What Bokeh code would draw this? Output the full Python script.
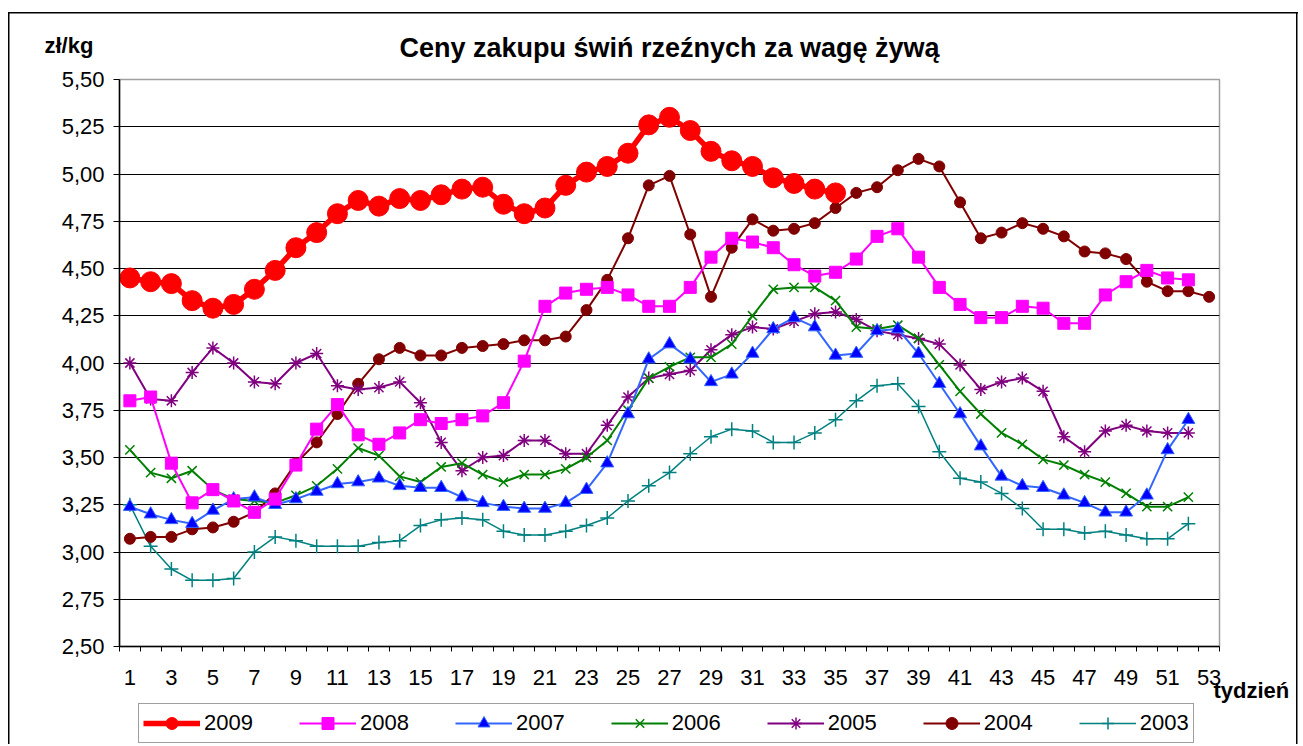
from bokeh.plotting import figure
from bokeh.layouts import column
from bokeh.models import (Range1d, FixedTicker, CustomJSTickFormatter, Legend, LegendItem,
                          Label)
from bokeh.embed import file_html
from bokeh.resources import INLINE

# ---- data -------------------------------------------------------------
title_text = "Ceny zakupu świń rzeźnych za wagę żywą"
y_title = "zł/kg"
x_title = "tydzień"

y2009 = [4.45, 4.43, 4.42, 4.33, 4.29, 4.31, 4.39, 4.49, 4.61, 4.69, 4.79, 4.86, 4.83, 4.87, 4.86,
         4.89, 4.92, 4.93, 4.84, 4.79, 4.82, 4.94, 5.01, 5.04, 5.11, 5.26, 5.30, 5.23, 5.12, 5.07,
         5.04, 4.98, 4.95, 4.92, 4.90]
y2008 = [3.80, 3.82, 3.47, 3.26, 3.33, 3.27, 3.21, 3.28, 3.46, 3.65, 3.78, 3.62, 3.57, 3.63, 3.70,
         3.68, 3.70, 3.72, 3.79, 4.01, 4.30, 4.37, 4.39, 4.40, 4.36, 4.30, 4.30, 4.40, 4.56, 4.66,
         4.64, 4.61, 4.52, 4.46, 4.48, 4.55, 4.67, 4.71, 4.56, 4.40, 4.31, 4.24, 4.24, 4.30, 4.29,
         4.21, 4.21, 4.36, 4.43, 4.49, 4.45, 4.44]
y2007 = [3.24, 3.20, 3.17, 3.15, 3.22, 3.28, 3.29, 3.25, 3.28, 3.32, 3.36, 3.37, 3.39, 3.35, 3.34,
         3.34, 3.29, 3.26, 3.24, 3.23, 3.23, 3.26, 3.33, 3.47, 3.73, 4.02, 4.10, 4.02, 3.90, 3.94,
         4.05, 4.18, 4.24, 4.19, 4.04, 4.05, 4.17, 4.18, 4.05, 3.89, 3.73, 3.56, 3.40, 3.35, 3.34,
         3.30, 3.26, 3.21, 3.21, 3.30, 3.54, 3.70]
y2006 = [3.54, 3.42, 3.39, 3.43, 3.33, 3.28, 3.27, 3.26, 3.30, 3.35, 3.44, 3.55, 3.51, 3.40, 3.37,
         3.45, 3.47, 3.41, 3.37, 3.41, 3.41, 3.44, 3.50, 3.59, 3.75, 3.92, 3.98, 4.03, 4.03, 4.10,
         4.25, 4.39, 4.40, 4.40, 4.33, 4.19, 4.18, 4.20, 4.13, 3.99, 3.85, 3.73, 3.63, 3.57, 3.49,
         3.46, 3.41, 3.37, 3.31, 3.24, 3.24, 3.29]
y2005 = [4.00, 3.81, 3.80, 3.95, 4.08, 4.00, 3.90, 3.89, 4.00, 4.05, 3.88, 3.86, 3.87, 3.90, 3.79,
         3.58, 3.43, 3.50, 3.51, 3.59, 3.59, 3.52, 3.52, 3.67, 3.82, 3.92, 3.94, 3.96, 4.07, 4.15,
         4.19, 4.18, 4.22, 4.26, 4.27, 4.23, 4.17, 4.15, 4.13, 4.10, 3.99, 3.86, 3.90, 3.92, 3.85,
         3.61, 3.53, 3.64, 3.67, 3.64, 3.63, 3.63]
y2004 = [3.07, 3.08, 3.08, 3.12, 3.13, 3.16, 3.21, 3.31, 3.47, 3.58, 3.73, 3.89, 4.02, 4.08, 4.04,
         4.04, 4.08, 4.09, 4.10, 4.12, 4.12, 4.14, 4.28, 4.44, 4.66, 4.94, 4.99, 4.68, 4.35, 4.61,
         4.76, 4.70, 4.71, 4.74, 4.82, 4.90, 4.93, 5.02, 5.08, 5.04, 4.85, 4.66, 4.69, 4.74, 4.71,
         4.67, 4.59, 4.58, 4.55, 4.43, 4.38, 4.38, 4.35]
y2003 = [3.25, 3.03, 2.91, 2.85, 2.85, 2.86, 3.00, 3.08, 3.06, 3.03, 3.03, 3.03, 3.05, 3.06, 3.14,
         3.17, 3.18, 3.17, 3.11, 3.09, 3.09, 3.11, 3.14, 3.18, 3.27, 3.35, 3.42, 3.52, 3.61, 3.65,
         3.64, 3.58, 3.58, 3.63, 3.70, 3.80, 3.88, 3.89, 3.77, 3.53, 3.39, 3.37, 3.31, 3.23, 3.12,
         3.12, 3.10, 3.11, 3.09, 3.07, 3.07, 3.15]

n_weeks = 53
y_ticks = [2.50, 2.75, 3.00, 3.25, 3.50, 3.75, 4.00, 4.25, 4.50, 4.75, 5.00, 5.25, 5.50]
x_labels = list(range(1, n_weeks + 1, 2))

FONT = "Liberation Sans"

# ---- main figure --------------------------------------------------------
p = figure(frame_width=1100, frame_height=567, output_backend="svg", toolbar_location=None,
           x_range=Range1d(0.5, n_weeks + 0.5), y_range=Range1d(2.5, 5.5),
           min_border_left=119, min_border_right=79, min_border_top=79, min_border_bottom=57,
           background_fill_color="white", border_fill_color="white", border_fill_alpha=0)

# outer chart frame drawn behind the (transparent) border area
p.styles = {
    "background-color": "white",
    "background-image": ("linear-gradient(black, black), linear-gradient(black, black), "
                         "linear-gradient(black, black)"),
    "background-size": "1290px 1.5px, 1.5px 740px, 1.5px 740px",
    "background-position": "8px 12px, 8px 12px, 1296px 12px",
    "background-repeat": "no-repeat",
}

p.title.text = title_text
p.title.align = "center"
p.title.text_font = FONT
p.title.text_font_size = "27px"
p.title.text_font_style = "bold"
p.title.text_color = "black"
p.title.standoff = 34

p.outline_line_color = "#A0A0A0"
p.outline_line_width = 1.5

p.xgrid.visible = False
p.ygrid.ticker = FixedTicker(ticks=y_ticks[:-1])
p.ygrid.grid_line_color = "black"
p.ygrid.grid_line_width = 1

# y axis
p.yaxis.ticker = FixedTicker(ticks=y_ticks)
p.yaxis.formatter = CustomJSTickFormatter(code="return tick.toFixed(2).replace('.', ',');")
p.yaxis.major_label_text_font = FONT
p.yaxis.major_label_text_font_size = "22px"
p.yaxis.major_label_text_color = "black"
p.yaxis.major_tick_out = 6
p.yaxis.major_tick_in = 0
p.yaxis.minor_tick_out = 0
p.yaxis.minor_tick_in = 0
p.yaxis.major_label_standoff = 9
p.yaxis.axis_line_color = "black"
p.yaxis.axis_line_width = 1.5
p.yaxis.major_tick_line_color = "black"

# x axis
p.xaxis.ticker = FixedTicker(ticks=x_labels,
                             minor_ticks=[i + 0.5 for i in range(0, n_weeks + 1)])
p.xaxis.major_label_text_font = FONT
p.xaxis.major_label_text_font_size = "22px"
p.xaxis.major_label_text_color = "black"
p.xaxis.major_tick_out = 0
p.xaxis.major_tick_in = 0
p.xaxis.minor_tick_out = 5
p.xaxis.minor_tick_in = 0
p.xaxis.minor_tick_line_color = "black"
p.xaxis.major_label_standoff = 18
p.xaxis.axis_line_color = "black"
p.xaxis.axis_line_width = 1.5

# ---- series -----------------------------------------------------------
series = [
    ("2003", y2003, "#008080", "#008080", "#008080", "cross", 14, 1.5, 1.5),
    ("2004", y2004, "#800000", "#800000", "#800000", "circle", 11, 2, 1),
    ("2005", y2005, "#800080", "#800080", "#800080", "asterisk", 13, 2, 1.5),
    ("2006", y2006, "#008000", "#008000", "#008000", "x", 13, 2, 1.5),
    ("2007", y2007, "#3366FF", "#0000FF", "#3366FF", "triangle", 13, 2, 1),
    ("2008", y2008, "#FF00FF", "#FF00FF", "#FF00FF", "square", 12, 2, 1),
    ("2009", y2009, "#FF0000", "#FF0000", "#FF0000", "circle", 20, 5.5, 1),
]

# ---- legend strip (separate small figure under the chart) ---------------
# its ranges lie away from the data, so the series drawn there only feed the legend
p2 = figure(width=1298, height=41, output_backend="svg", toolbar_location=None,
            x_range=Range1d(1000, 1001), y_range=Range1d(1000, 1001),
            min_border=0, background_fill_alpha=0, border_fill_alpha=0)
p2.axis.visible = False
p2.grid.visible = False
p2.outline_line_color = None
p2.styles = {
    "background-color": "white",
    "background-image": "linear-gradient(black, black), linear-gradient(black, black)",
    "background-size": "1.5px 100%, 1.5px 100%",
    "background-position": "8px 0px, 1296px 0px",
    "background-repeat": "no-repeat",
}

items = {}
for name, ys, lcol, fcol, mcol, marker, size, lw, mlw in series:
    xs = list(range(1, len(ys) + 1))
    p.line(xs, ys, line_color=lcol, line_width=lw)
    p.scatter(xs, ys, marker=marker, size=size, fill_color=fcol, line_color=mcol,
              line_width=mlw)
    lr = p2.line(xs, ys, line_color=lcol, line_width=lw)
    sr = p2.scatter(xs, ys, marker=marker, size=size, fill_color=fcol, line_color=mcol,
                    line_width=mlw)
    items[name] = LegendItem(label=name, renderers=[lr, sr])

legend_order = ["2009", "2008", "2007", "2006", "2005", "2004", "2003"]
legend = Legend(items=[items[k] for k in legend_order], orientation="horizontal",
                location=(19, 1), margin=0, padding=4, spacing=46, glyph_width=57,
                glyph_height=30, label_standoff=4, label_text_font=FONT,
                label_text_font_size="22px", label_text_color="black",
                border_line_color="#404040", border_line_width=1.5,
                background_fill_color="white", background_fill_alpha=1)
p2.add_layout(legend, "center")

# ---- side texts ---------------------------------------------------------
p.add_layout(Label(x=35, y=601, x_units="screen", y_units="screen", text=y_title,
                   text_font=FONT, text_font_size="22px", text_font_style="bold",
                   text_align="left", text_baseline="alphabetic", text_color="black"),
             "left")
p.add_layout(Label(x=-6, y=-44, x_units="screen", y_units="screen", text=x_title,
                   text_font=FONT, text_font_size="22px", text_font_style="bold",
                   text_align="left", text_baseline="alphabetic", text_color="black"),
             "right")

layout = column(p, p2, spacing=0)
open("out.html", "w").write(file_html(layout, INLINE))
